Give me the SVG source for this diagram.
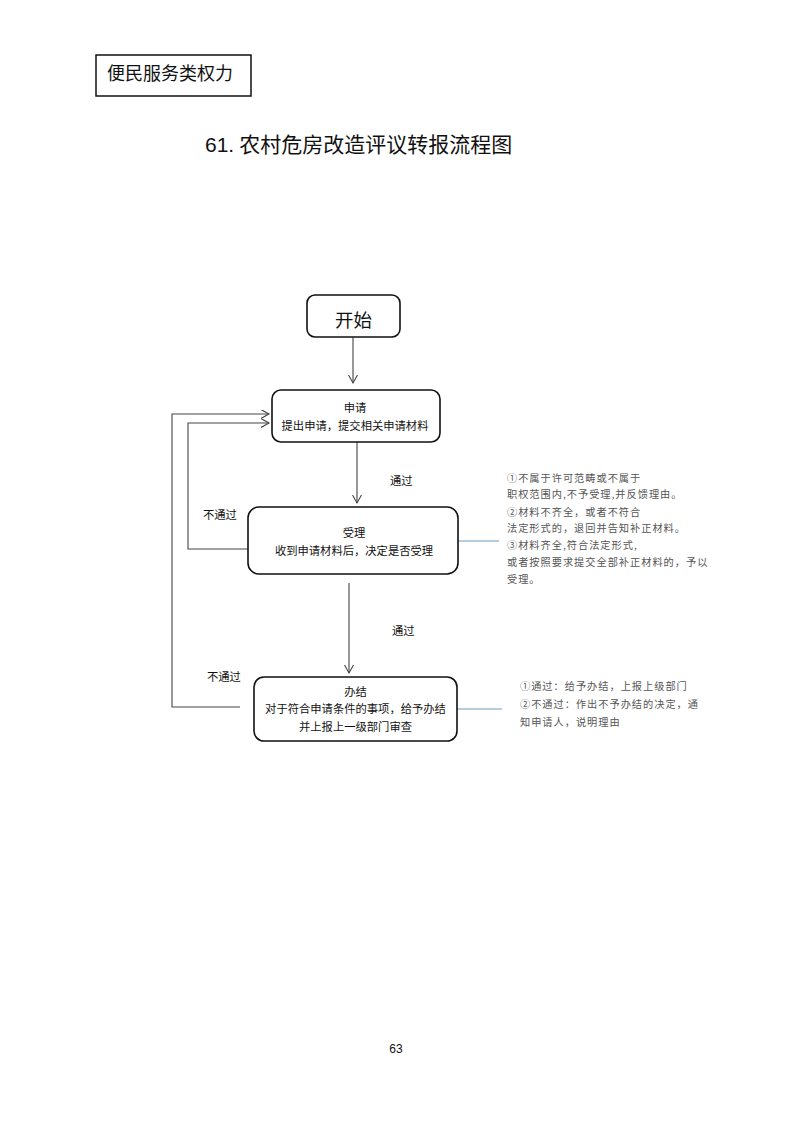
<svg xmlns="http://www.w3.org/2000/svg" width="793" height="1122" viewBox="0 0 793 1122">
<style>
text{font-family:"Noto Sans CJK SC","Liberation Sans",sans-serif;fill:#111}
.box{fill:#fff;stroke:#111;stroke-width:1.6}
.lbl{font-size:11.3px;text-anchor:middle}
.edge{fill:none;stroke:#444;stroke-width:1.1}
.note-line{fill:none;stroke:#6a9bc0;stroke-width:1.1}
.note{font-size:10.2px;fill:#555;letter-spacing:1px}
.edge-lbl{font-size:11.3px}
</style>
<defs>
<marker id="arr" markerUnits="userSpaceOnUse" markerWidth="12" markerHeight="12" refX="8" refY="4.5" orient="auto">
<path d="M0,0 L8,4.5 L0,9" fill="none" stroke="#444" stroke-width="1.1"/>
</marker>
</defs>
<rect width="793" height="1122" fill="#fff"/>
<g id="header">
<rect x="96" y="55" width="155" height="41" fill="none" stroke="#111" stroke-width="1.5"/>
<text x="107" y="80" style="font-size:18px">便民服务类权力</text>
</g>
<g id="title">
<text x="205" y="152" style="font-size:21px"><tspan style="font-family:'Liberation Sans',sans-serif">61.</tspan><tspan dx="5">农村危房改造评议转报流程图</tspan></text>
</g>
<g id="connectors">
<line class="edge" x1="353" y1="337" x2="353" y2="383" marker-end="url(#arr)"/>
<line class="edge" x1="357" y1="442" x2="357" y2="503" marker-end="url(#arr)"/>
<line class="edge" x1="349" y1="583" x2="349" y2="673" marker-end="url(#arr)"/>
<polyline class="edge" points="248,549 188,549 188,423 269,423" marker-end="url(#arr)"/>
<polyline class="edge" points="240,707 172,707 172,414 269,414" marker-end="url(#arr)"/>
<line class="note-line" x1="458" y1="541" x2="499" y2="541"/>
<line class="note-line" x1="457" y1="709" x2="502" y2="709"/>
<text class="edge-lbl" x="390" y="485">通过</text>
<text class="edge-lbl" x="392" y="635">通过</text>
<text class="edge-lbl" x="203" y="519">不通过</text>
<text class="edge-lbl" x="207" y="681">不通过</text>
</g>
<g id="start">
<rect class="box" x="307" y="295" width="93" height="42" rx="8"/>
<text x="353.5" y="327" style="font-size:18.5px;text-anchor:middle">开始</text>
</g>
<g id="apply">
<rect class="box" x="272" y="390" width="168" height="52" rx="9"/>
<text class="lbl" x="355" y="412">申请</text>
<text class="lbl" x="355" y="430">提出申请，提交相关申请材料</text>
</g>
<g id="accept">
<rect class="box" x="248" y="507" width="210" height="67" rx="11"/>
<text class="lbl" x="354" y="537">受理</text>
<text class="lbl" x="354" y="555">收到申请材料后，决定是否受理</text>
</g>
<g id="finish">
<rect class="box" x="254" y="677" width="203" height="64" rx="10"/>
<text class="lbl" x="355.5" y="696">办结</text>
<text class="lbl" x="355.5" y="713">对于符合申请条件的事项，给予办结</text>
<text class="lbl" x="355.5" y="731">并上报上一级部门审查</text>
</g>
<g id="note1">
<text class="note" x="507" y="482">①不属于许可范畴或不属于</text>
<text class="note" x="507" y="498">职权范围内,不予受理,并反馈理由。</text>
<text class="note" x="507" y="516">②材料不齐全，或者不符合</text>
<text class="note" x="507" y="532">法定形式的，退回并告知补正材料。</text>
<text class="note" x="507" y="549">③材料齐全,符合法定形式,</text>
<text class="note" x="507" y="566">或者按照要求提交全部补正材料的，予以</text>
<text class="note" x="507" y="583">受理。</text>
</g>
<g id="note2">
<text class="note" x="520" y="690">①通过：给予办结，上报上级部门</text>
<text class="note" x="520" y="708">②不通过：作出不予办结的决定，通</text>
<text class="note" x="520" y="726">知申请人，说明理由</text>
</g>
<g id="page">
<text x="396" y="1053" style="font-size:12px;text-anchor:middle;font-family:'Liberation Sans',sans-serif">63</text>
</g>
</svg>
